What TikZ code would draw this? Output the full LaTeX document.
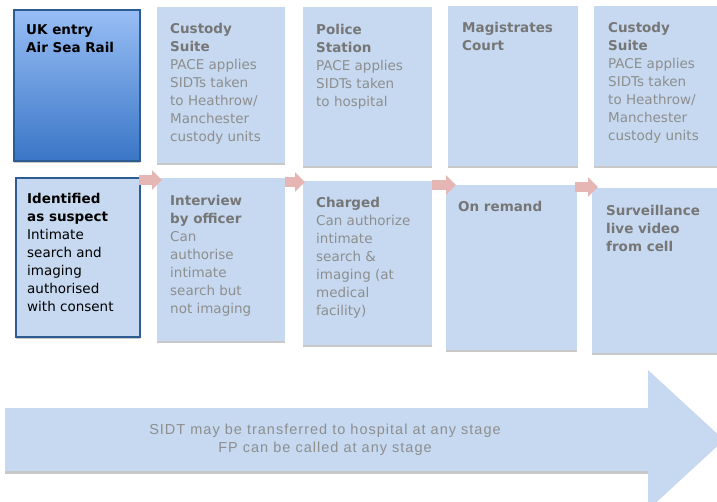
\documentclass[tikz,border=0pt]{standalone}
\usepackage{fontspec}
\setmainfont{DejaVu Sans}
\newfontfamily\notefont[LetterSpace=7]{Liberation Sans}
\usetikzlibrary{arrows.meta,shadows}

\definecolor{boxblue}{RGB}{198,217,240}
\definecolor{edgeblue}{RGB}{44,92,146}
\definecolor{topblue}{RGB}{152,190,246}
\definecolor{lowblue}{RGB}{58,118,198}
\definecolor{flowpink}{RGB}{230,182,180}
\definecolor{headgray}{RGB}{118,118,118}
\definecolor{bodygray}{RGB}{142,142,142}
\definecolor{shadegray}{RGB}{200,200,200}

\newcommand{\hd}[1]{\textcolor{headgray}{\textbf{#1}}}

\begin{document}
\begin{tikzpicture}[x=1pt, y=-1pt,
    stage/.style={rectangle, fill=boxblue, anchor=north west, inner sep=0pt,
        general shadow={fill=shadegray, shadow yshift=-2pt}},
    entry/.style={stage, draw=edgeblue, line width=2pt},
    txt/.style={anchor=north west, inner sep=0pt, align=left, text=bodygray,
        font=\fontsize{13.5}{18}\selectfont},
    flow/.style={-{Triangle[length=10pt,width=19pt]}, draw=flowpink, line width=10pt}]
    \clip (0,0) rectangle (717,502);
    \fill[white] (0,0) rectangle (717,502);

    % top row
    \node[entry, top color=topblue, bottom color=lowblue, minimum width=126pt, minimum height=151pt] (entrybox) at (13,9) {};
    \node[stage, minimum width=128pt, minimum height=156pt] (custbox) at (157,7) {};
    \node[stage, minimum width=129pt, minimum height=159pt] (policebox) at (303,7) {};
    \node[stage, minimum width=130pt, minimum height=160pt] (magbox) at (448,6) {};
    \node[stage, minimum width=130pt, minimum height=160pt] (suitebox) at (594,6) {};

    \node[txt, text=black] (entrytxt) at ([shift={(13pt,-15pt)}]entrybox.north west) {\textbf{UK entry}\\\textbf{Air Sea Rail}};
    \node[txt] (custtxt) at ([shift={(13pt,-16pt)}]custbox.north west) {\hd{Custody}\\\hd{Suite}\\PACE applies\\SIDTs taken\\to Heathrow/\\Manchester\\custody units};
    \node[txt] (policetxt) at ([shift={(13pt,-17pt)}]policebox.north west) {\hd{Police}\\\hd{Station}\\PACE applies\\SIDTs taken\\to hospital};
    \node[txt] (magtxt) at ([shift={(14pt,-16pt)}]magbox.north west) {\hd{Magistrates}\\\hd{Court}};
    \node[txt] (suitetxt) at ([shift={(14pt,-16pt)}]suitebox.north west) {\hd{Custody}\\\hd{Suite}\\PACE applies\\SIDTs taken\\to Heathrow/\\Manchester\\custody units};

    % bottom row
    \node[entry, minimum width=124pt, minimum height=159pt] (idbox) at (15,177) {};
    \node[stage, minimum width=128pt, minimum height=163pt] (intbox) at (157,178) {};
    \node[stage, minimum width=129pt, minimum height=164pt] (chargebox) at (303,181) {};
    \node[stage, minimum width=131pt, minimum height=165pt] (remandbox) at (446,185) {};
    \node[stage, minimum width=130pt, minimum height=165pt] (survbox) at (592,188) {};

    \node[txt, text=black] (idtxt) at ([shift={(12pt,-16pt)}]idbox.north west) {\textbf{Identified}\\\textbf{as suspect}\\Intimate\\search and\\imaging\\authorised\\with consent};
    \node[txt] (inttxt) at ([shift={(13pt,-17pt)}]intbox.north west) {\hd{Interview}\\\hd{by officer}\\Can\\authorise\\intimate\\search but\\not imaging};
    \node[txt] (chargetxt) at ([shift={(13pt,-16pt)}]chargebox.north west) {\hd{Charged}\\Can authorize\\intimate\\search \&\\imaging (at\\medical\\facility)};
    \node[txt] (remandtxt) at ([shift={(12pt,-16pt)}]remandbox.north west) {\hd{On remand}};
    \node[txt] (survtxt) at ([shift={(14pt,-17pt)}]survbox.north west) {\hd{Surveillance}\\\hd{live video}\\\hd{from cell}};

    % steps
    \draw[flow] ([xshift=-2pt,yshift=-3pt]idbox.north east) -- ([xshift=5pt,yshift=-2pt]intbox.north west);
    \draw[flow] ([yshift=-4pt]intbox.north east) -- ([xshift=2pt,yshift=-1pt]chargebox.north west);
    \draw[flow] ([yshift=-4pt]chargebox.north east) -- ([xshift=10pt]remandbox.north west);
    \draw[flow] ([xshift=-2pt,yshift=-2pt]remandbox.north east) -- ([xshift=6pt,yshift=1pt]survbox.north west);

    % big arrow
    \fill[shadegray] (5,471) rectangle (648,474);
    \fill[boxblue] (5,408) -- (648,408) -- (648,370) -- (724,440) -- (648,510) -- (648,471) -- (5,471) -- cycle;
    \node[align=center, text=bodygray, font=\notefont\fontsize{14.5}{18}\selectfont] (note) at (325,440) {SIDT may be transferred to hospital at any stage\\FP can be called at any stage};
\end{tikzpicture}
\end{document}
